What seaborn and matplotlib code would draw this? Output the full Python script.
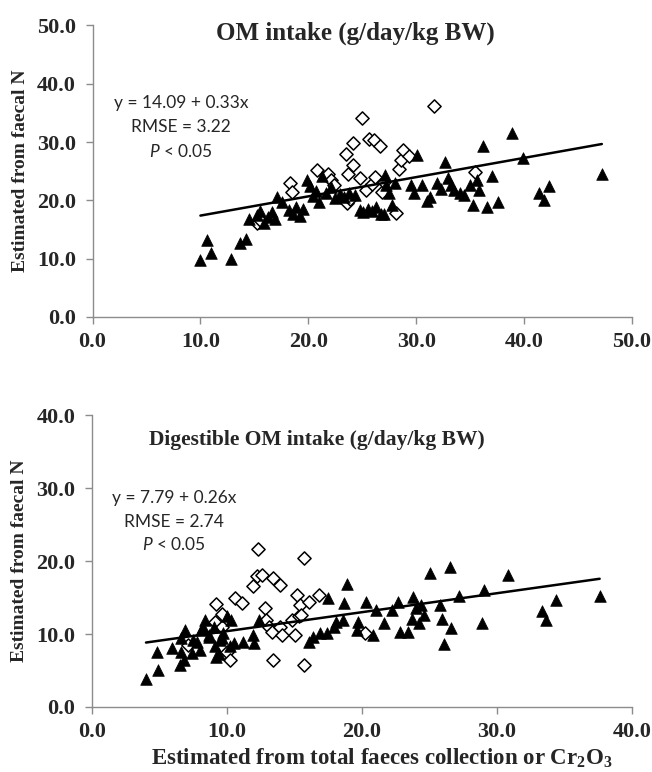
import matplotlib
matplotlib.use("Agg")
import matplotlib.pyplot as plt
import numpy as np
import pandas as pd
import seaborn as sns

# ---- OM intake (g/day/kg BW) ----
om_tri_x = [10.0, 10.6, 11.0, 12.8, 13.7, 14.2, 14.5, 15.2, 15.5, 15.9, 16.3, 16.6, 16.9,
            17.1, 17.6, 18.2, 18.6, 18.9, 19.2, 19.5, 19.9, 20.2, 20.4, 20.7, 21.0, 21.3,
            21.6, 22.1, 22.5, 22.9, 23.3, 23.8, 24.3, 24.8, 25.1, 25.5, 25.9, 26.3, 26.7,
            27.0, 27.1, 27.2, 27.5, 27.8, 28.0, 29.5, 29.8, 30.1, 30.5, 31.0, 31.3, 31.9,
            32.3, 32.7, 32.9, 33.2, 33.5, 34.1, 34.4, 35.0, 35.3, 35.6, 35.8, 36.2, 36.6,
            37.0, 37.6, 38.9, 39.9, 41.4, 41.8, 42.3, 47.2]
om_tri_y = [9.7, 13.2, 10.9, 10.0, 12.7, 13.4, 16.8, 17.5, 18.1, 16.2, 17.2, 18.0, 16.8,
            20.6, 19.8, 18.3, 17.6, 18.9, 17.4, 18.6, 23.5, 22.4, 20.7, 21.6, 19.7, 24.2,
            21.2, 22.3, 20.4, 21.1, 20.6, 21.2, 21.0, 18.3, 18.0, 18.6, 18.1, 18.8, 17.6,
            17.6, 24.4, 22.6, 21.2, 19.2, 23.0, 22.6, 21.2, 27.8, 22.6, 19.9, 20.5, 22.9,
            22.0, 26.6, 23.8, 22.6, 21.8, 21.2, 20.9, 22.6, 19.2, 23.5, 21.8, 29.3, 18.9,
            24.1, 19.8, 31.5, 27.2, 21.2, 20.1, 22.4, 24.6]
om_dia_x = [15.2, 15.5, 18.3, 18.5, 20.8, 21.8, 22.1, 22.4, 23.5, 23.6, 23.7, 24.1, 24.1,
            23.9, 24.8, 25.0, 25.3, 25.6, 25.9, 26.1, 26.2, 26.6, 26.8, 27.0, 28.1, 28.4,
            28.6, 28.8, 29.3, 31.6, 35.4]
om_dia_y = [16.1, 16.7, 22.9, 21.5, 25.2, 24.6, 23.5, 22.6, 28.0, 19.6, 24.5, 29.9, 26.1,
            20.3, 23.9, 34.2, 21.8, 30.6, 22.8, 30.3, 24.0, 29.4, 21.5, 23.2, 17.9, 25.3,
            26.9, 28.7, 27.6, 36.2, 24.9]

# ---- Digestible OM intake (g/day/kg BW) ----
dom_tri_x = [4.0, 4.9, 4.8, 5.9, 6.5, 6.6, 6.6, 6.9, 6.8, 7.4, 7.5, 7.8, 8.0, 8.1, 8.2,
             8.4, 8.7, 8.7, 9.0, 9.1, 9.2, 9.4, 9.5, 9.6, 9.7, 10.0, 10.2, 10.3, 10.5,
             11.2, 11.9, 12.0, 12.4, 16.1, 16.4, 16.9, 17.4, 17.5, 17.9, 18.1, 18.6, 18.7,
             18.9, 19.6, 19.7, 20.3, 20.8, 21.0, 21.6, 22.2, 22.7, 22.8, 23.4, 23.7, 23.8,
             24.0, 24.2, 24.4, 24.6, 25.0, 25.8, 25.9, 26.1, 26.5, 26.6, 27.2, 28.9, 29.0,
             30.8, 33.3, 33.6, 34.4, 37.6]
dom_tri_y = [3.8, 5.1, 7.5, 8.1, 5.8, 7.6, 9.4, 10.5, 6.4, 7.4, 9.2, 8.9, 7.8, 10.5, 11.0,
             11.9, 9.6, 9.9, 11.0, 8.3, 6.9, 7.2, 9.2, 9.4, 10.1, 12.4, 8.3, 11.9, 8.7,
             8.9, 9.9, 8.7, 11.9, 8.9, 9.6, 10.1, 10.1, 14.9, 11.0, 11.7, 11.9, 14.2,
             16.9, 10.5, 11.7, 14.4, 9.9, 13.3, 11.5, 13.3, 14.4, 10.3, 10.3, 12.0, 15.1,
             13.5, 11.5, 14.0, 12.6, 18.3, 14.0, 12.1, 8.6, 19.2, 10.8, 15.2, 11.5, 16.0,
             18.1, 13.1, 11.9, 14.7, 15.2]
dom_dia_x = [7.1, 9.1, 9.2, 9.6, 9.6, 10.0, 10.2, 10.6, 11.1, 11.9, 12.3, 12.2, 12.6,
             12.8, 12.9, 13.1, 13.3, 13.4, 13.4, 13.9, 13.9, 14.1, 14.8, 15.0, 15.2, 15.3,
             15.4, 15.5, 15.7, 15.7, 16.1, 16.8, 20.2]
dom_dia_y = [8.5, 11.7, 14.1, 12.8, 11.0, 7.5, 6.4, 15.0, 14.2, 16.6, 21.6, 17.9, 18.1,
             13.6, 11.9, 11.0, 10.3, 17.7, 6.5, 16.7, 11.0, 9.9, 11.9, 9.9, 15.3, 12.4,
             14.0, 12.6, 20.4, 5.8, 14.4, 15.3, 10.1]

panels = [
    dict(title="OM intake (g/day/kg BW)", tri=(om_tri_x, om_tri_y), dia=(om_dia_x, om_dia_y),
         a=14.09, b=0.33, lim=50, eq=["y = 14.09 + 0.33x", "RMSE = 3.22"],
         title_pos=(0.487, 0.973), title_size=18, eq_pos=(8.2, 36.7), eq_step=4.15),
    dict(title="Digestible OM intake (g/day/kg BW)", tri=(dom_tri_x, dom_tri_y),
         dia=(dom_dia_x, dom_dia_y), a=7.79, b=0.26, lim=40,
         eq=["y = 7.79 + 0.26x", "RMSE = 2.74"],
         title_pos=(0.417, 0.915), title_size=15.5, eq_pos=(6.1, 28.6), eq_step=3.2),
]

sns.set_theme(style="white")
plt.rcParams["mathtext.fontset"] = "custom"
plt.rcParams["mathtext.rm"] = "Liberation Serif:bold"
plt.rcParams["mathtext.bf"] = "Liberation Serif:bold"
plt.rcParams["mathtext.it"] = "Liberation Serif:bold"
plt.rcParams["mathtext.sf"] = "Lato:italic"

serif = dict(family="Liberation Serif", weight="bold")
sans = "Lato"
grey = "#8c8c8c"

fig = plt.figure(figsize=(6.52, 7.72), dpi=100)
axes = [fig.add_axes([0.1419, 0.5894, 0.8275, 0.3776]),
        fig.add_axes([0.1411, 0.0842, 0.8283, 0.3782])]

for ax, p in zip(axes, panels):
    dia = pd.DataFrame({"x": p["dia"][0], "y": p["dia"][1]})
    tri = pd.DataFrame({"x": p["tri"][0], "y": p["tri"][1]})
    sns.scatterplot(data=dia, x="x", y="y", marker="D", s=45, facecolor="white",
                    edgecolor="black", linewidth=1.1, ax=ax, zorder=3)
    sns.scatterplot(data=tri, x="x", y="y", marker="^", s=70, color="black",
                    edgecolor="black", linewidth=0.5, ax=ax, zorder=4)

    xs = np.array([tri["x"].min(), tri["x"].max()])
    ax.plot(xs, p["a"] + p["b"] * xs, color="black", linewidth=1.8, zorder=5)

    lim = p["lim"]
    ax.set_xlim(0, lim)
    ax.set_ylim(0, lim)
    ticks = np.arange(0, lim + 1, 10)
    ax.set_xticks(ticks)
    ax.set_yticks(ticks)
    ax.set_xticklabels([f"{t:.1f}" for t in ticks], **serif, fontsize=16)
    ax.set_yticklabels([f"{t:.1f}" for t in ticks], **serif, fontsize=16)
    ax.tick_params(axis="y", pad=7)
    ax.tick_params(axis="x", pad=6)
    ax.tick_params(direction="out", length=5, width=1, color=grey,
                   bottom=True, left=True)
    for side in ["top", "right"]:
        ax.spines[side].set_visible(False)
    for side in ["left", "bottom"]:
        ax.spines[side].set_color(grey)
        ax.spines[side].set_linewidth(1)
    ax.set_xlabel("")
    ax.set_ylabel("Estimated from faecal N", fontsize=14, labelpad=6, **serif)

    ax.text(p["title_pos"][0], p["title_pos"][1], p["title"], transform=ax.transAxes,
            ha="center", va="center", fontsize=p["title_size"], **serif)
    ex, ey = p["eq_pos"]
    ax.text(ex, ey, p["eq"][0], ha="center", va="center", fontsize=12.5, family=sans)
    ax.text(ex, ey - p["eq_step"], p["eq"][1], ha="center", va="center", fontsize=12.5,
            family=sans)
    ax.text(ex, ey - 2 * p["eq_step"], r"$\mathsf{P}$ < 0.05", ha="center", va="center",
            fontsize=12.5, family=sans)

fig.text(382 / 652, 2 / 772, r"Estimated from total faeces collection or Cr$_2$O$_3$",
         ha="center", va="bottom", fontsize=16.5, **serif)

fig.savefig("out.png", dpi=100)
